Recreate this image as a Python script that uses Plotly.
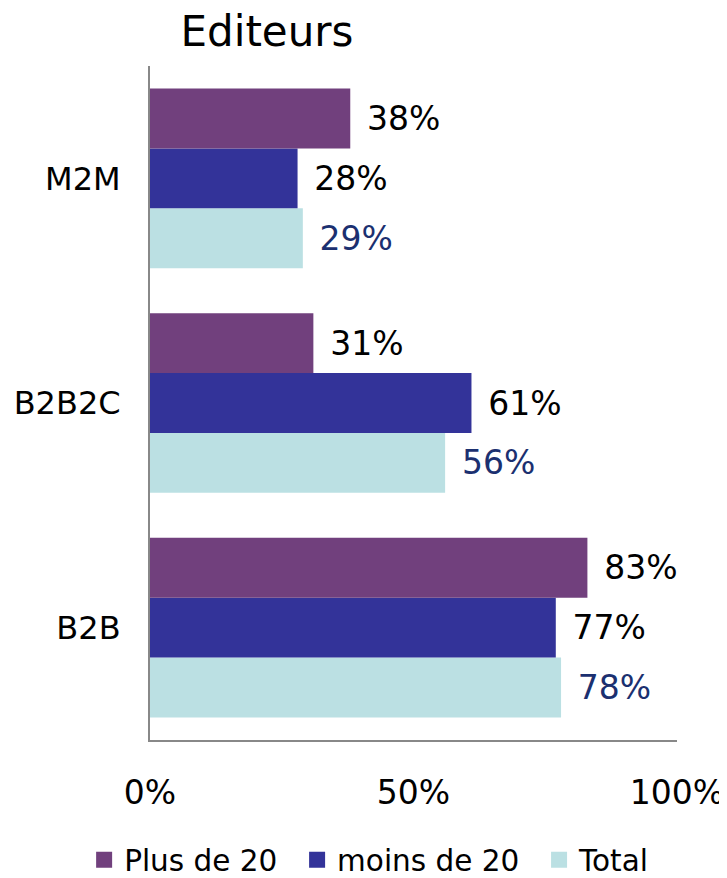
import plotly.graph_objects as go

categories = ["B2B", "B2B2C", "M2M"]
plus_de_20 = [0.83, 0.31, 0.38]
moins_de_20 = [0.77, 0.61, 0.28]
total = [0.78, 0.56, 0.29]
tick_vals = [0, 0.5, 1]
tick_text = ["0%", "50%", "100%"]

series = [
    ("Total", total, "#BBE0E3", "#1B3070"),
    ("moins de 20", moins_de_20, "#333399", "#000000"),
    ("Plus de 20", plus_de_20, "#71407D", "#000000"),
]

# page body has an 8px margin: figure drawn at (8, 8)
W, H = 719, 870
font = "DejaVu Sans, Verdana, sans-serif"
fig = go.Figure()
for name, vals, color, tcolor in series:
    fig.add_trace(go.Bar(
        y=categories, x=vals, name=name, orientation="h",
        marker=dict(color=color, line=dict(width=0)),
        text=[f" \u200a{round(v*100)}%" for v in vals],
        textposition="outside",
        constraintext="none",
        textfont=dict(size=33, color=tcolor, family=font),
        cliponaxis=False, showlegend=False,
    ))

# legend entries with larger square swatches
for i, (name, vals, color, tcolor) in enumerate(reversed(series)):
    label = name + ("\u2002" if i < 2 else "")
    fig.add_trace(go.Scatter(
        x=[None], y=[None], mode="markers", name=label,
        marker=dict(symbol="square", size=17, color=color),
        showlegend=True, hoverinfo="skip",
    ))

fig.update_layout(
    width=W, height=H,
    barmode="group", bargap=0.2, bargroupgap=0,
    plot_bgcolor="white", paper_bgcolor="white",
    margin=dict(l=142, r=50, t=58, b=138, autoexpand=False),
    font=dict(family=font, color="#000000"),
    title=dict(text="Editeurs", x=259/W, xanchor="center", xref="container",
               y=1 - 23/H, yanchor="middle", yref="container",
               font=dict(size=42, family=font, color="#000000")),
    legend=dict(orientation="h", traceorder="normal",
                x=-0.125, xanchor="left",
                y=-0.178, yanchor="middle",
                font=dict(size=29.5, family=font), itemwidth=30),
    uniformtext=dict(mode=False),
)
fig.update_xaxes(range=[0, 1], tickvals=tick_vals, ticktext=tick_text,
                 showgrid=False, zeroline=False, showline=True,
                 linecolor="#888888", linewidth=2, ticks="", automargin=False,
                 ticklabelstandoff=22, tickfont=dict(size=33, family=font))
fig.update_yaxes(showgrid=False, zeroline=False, showline=True,
                 linecolor="#888888", linewidth=2, ticks="", automargin=False,
                 ticklabelstandoff=21, tickfont=dict(size=32, family=font))

fig.write_html("out.html")
